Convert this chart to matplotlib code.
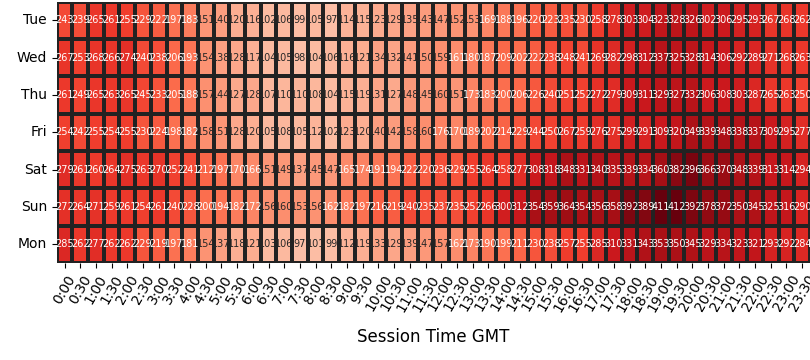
import matplotlib as mpl
mpl.use('Agg')
import matplotlib.pyplot as plt
import seaborn as sns
import pandas as pd

days = ["Tue", "Wed", "Thu", "Fri", "Sat", "Sun", "Mon"]
times = ["%d:%s" % (h, m) for h in range(24) for m in ("00", "30")]

tue = [243, 239, 265, 261, 255, 229, 222, 197, 183, 151, 140, 120,
       116, 102, 106, 99, 105, 97, 114, 115, 123, 129, 135, 143,
       147, 152, 153, 169, 188, 196, 220, 223, 235, 230, 258, 278,
       303, 304, 323, 328, 326, 302, 306, 295, 293, 267, 268, 262]
wed = [267, 253, 268, 266, 274, 240, 238, 206, 193, 154, 138, 128,
       117, 104, 105, 98, 104, 106, 116, 121, 134, 132, 141, 150,
       159, 161, 180, 187, 209, 202, 222, 238, 248, 241, 269, 282,
       298, 312, 337, 325, 328, 314, 306, 292, 289, 271, 268, 263]
thu = [261, 249, 265, 263, 265, 245, 233, 205, 188, 157, 144, 127,
       128, 107, 110, 110, 108, 104, 115, 119, 131, 127, 148, 145,
       160, 151, 173, 183, 200, 206, 226, 240, 251, 252, 272, 279,
       309, 311, 329, 327, 332, 306, 308, 303, 287, 265, 263, 250]
fri = [254, 242, 255, 254, 255, 230, 224, 198, 182, 158, 151, 128,
       120, 105, 108, 105, 112, 102, 123, 120, 140, 142, 158, 160,
       176, 170, 189, 202, 214, 229, 244, 250, 267, 259, 276, 275,
       299, 291, 309, 320, 349, 339, 348, 338, 337, 309, 295, 277]
sat = [279, 261, 260, 264, 275, 263, 270, 252, 241, 212, 197, 170,
       166, 151, 149, 137, 145, 147, 165, 174, 191, 194, 222, 220,
       236, 229, 255, 264, 258, 277, 308, 318, 348, 331, 340, 335,
       339, 334, 360, 382, 396, 366, 370, 348, 339, 313, 314, 294]
sun = [272, 264, 271, 259, 261, 254, 261, 240, 228, 200, 194, 182,
       172, 156, 160, 153, 156, 162, 182, 197, 216, 219, 240, 235,
       237, 235, 252, 266, 300, 312, 354, 359, 364, 354, 356, 358,
       392, 389, 411, 412, 392, 378, 372, 350, 345, 325, 316, 290]
mon = [285, 262, 277, 262, 262, 229, 219, 197, 181, 154, 137, 118,
       121, 103, 106, 97, 101, 99, 112, 119, 133, 129, 139, 147,
       157, 162, 173, 190, 199, 211, 230, 238, 257, 255, 285, 310,
       331, 343, 353, 350, 345, 329, 334, 323, 321, 293, 292, 284]

df = pd.DataFrame([tue, wed, thu, fri, sat, sun, mon], index=days, columns=times)

fig, ax = plt.subplots(figsize=(8.1, 3.6), dpi=100)
fig.subplots_adjust(left=0.07, right=1.0, top=0.995, bottom=0.27)

sns.heatmap(df, ax=ax, cmap="Reds", vmin=0, annot=True, fmt="d",
            annot_kws={"fontsize": 7}, linewidths=1.5, linecolor="#222222",
            cbar=False)

ax.set_xlabel("Session Time GMT", fontsize=12, labelpad=10)
ax.set_ylabel("")
ax.set_xticklabels(times, rotation=60, ha="center", fontsize=10)
ax.set_yticklabels(days, rotation=0, fontsize=10)

plt.savefig("out.png")
